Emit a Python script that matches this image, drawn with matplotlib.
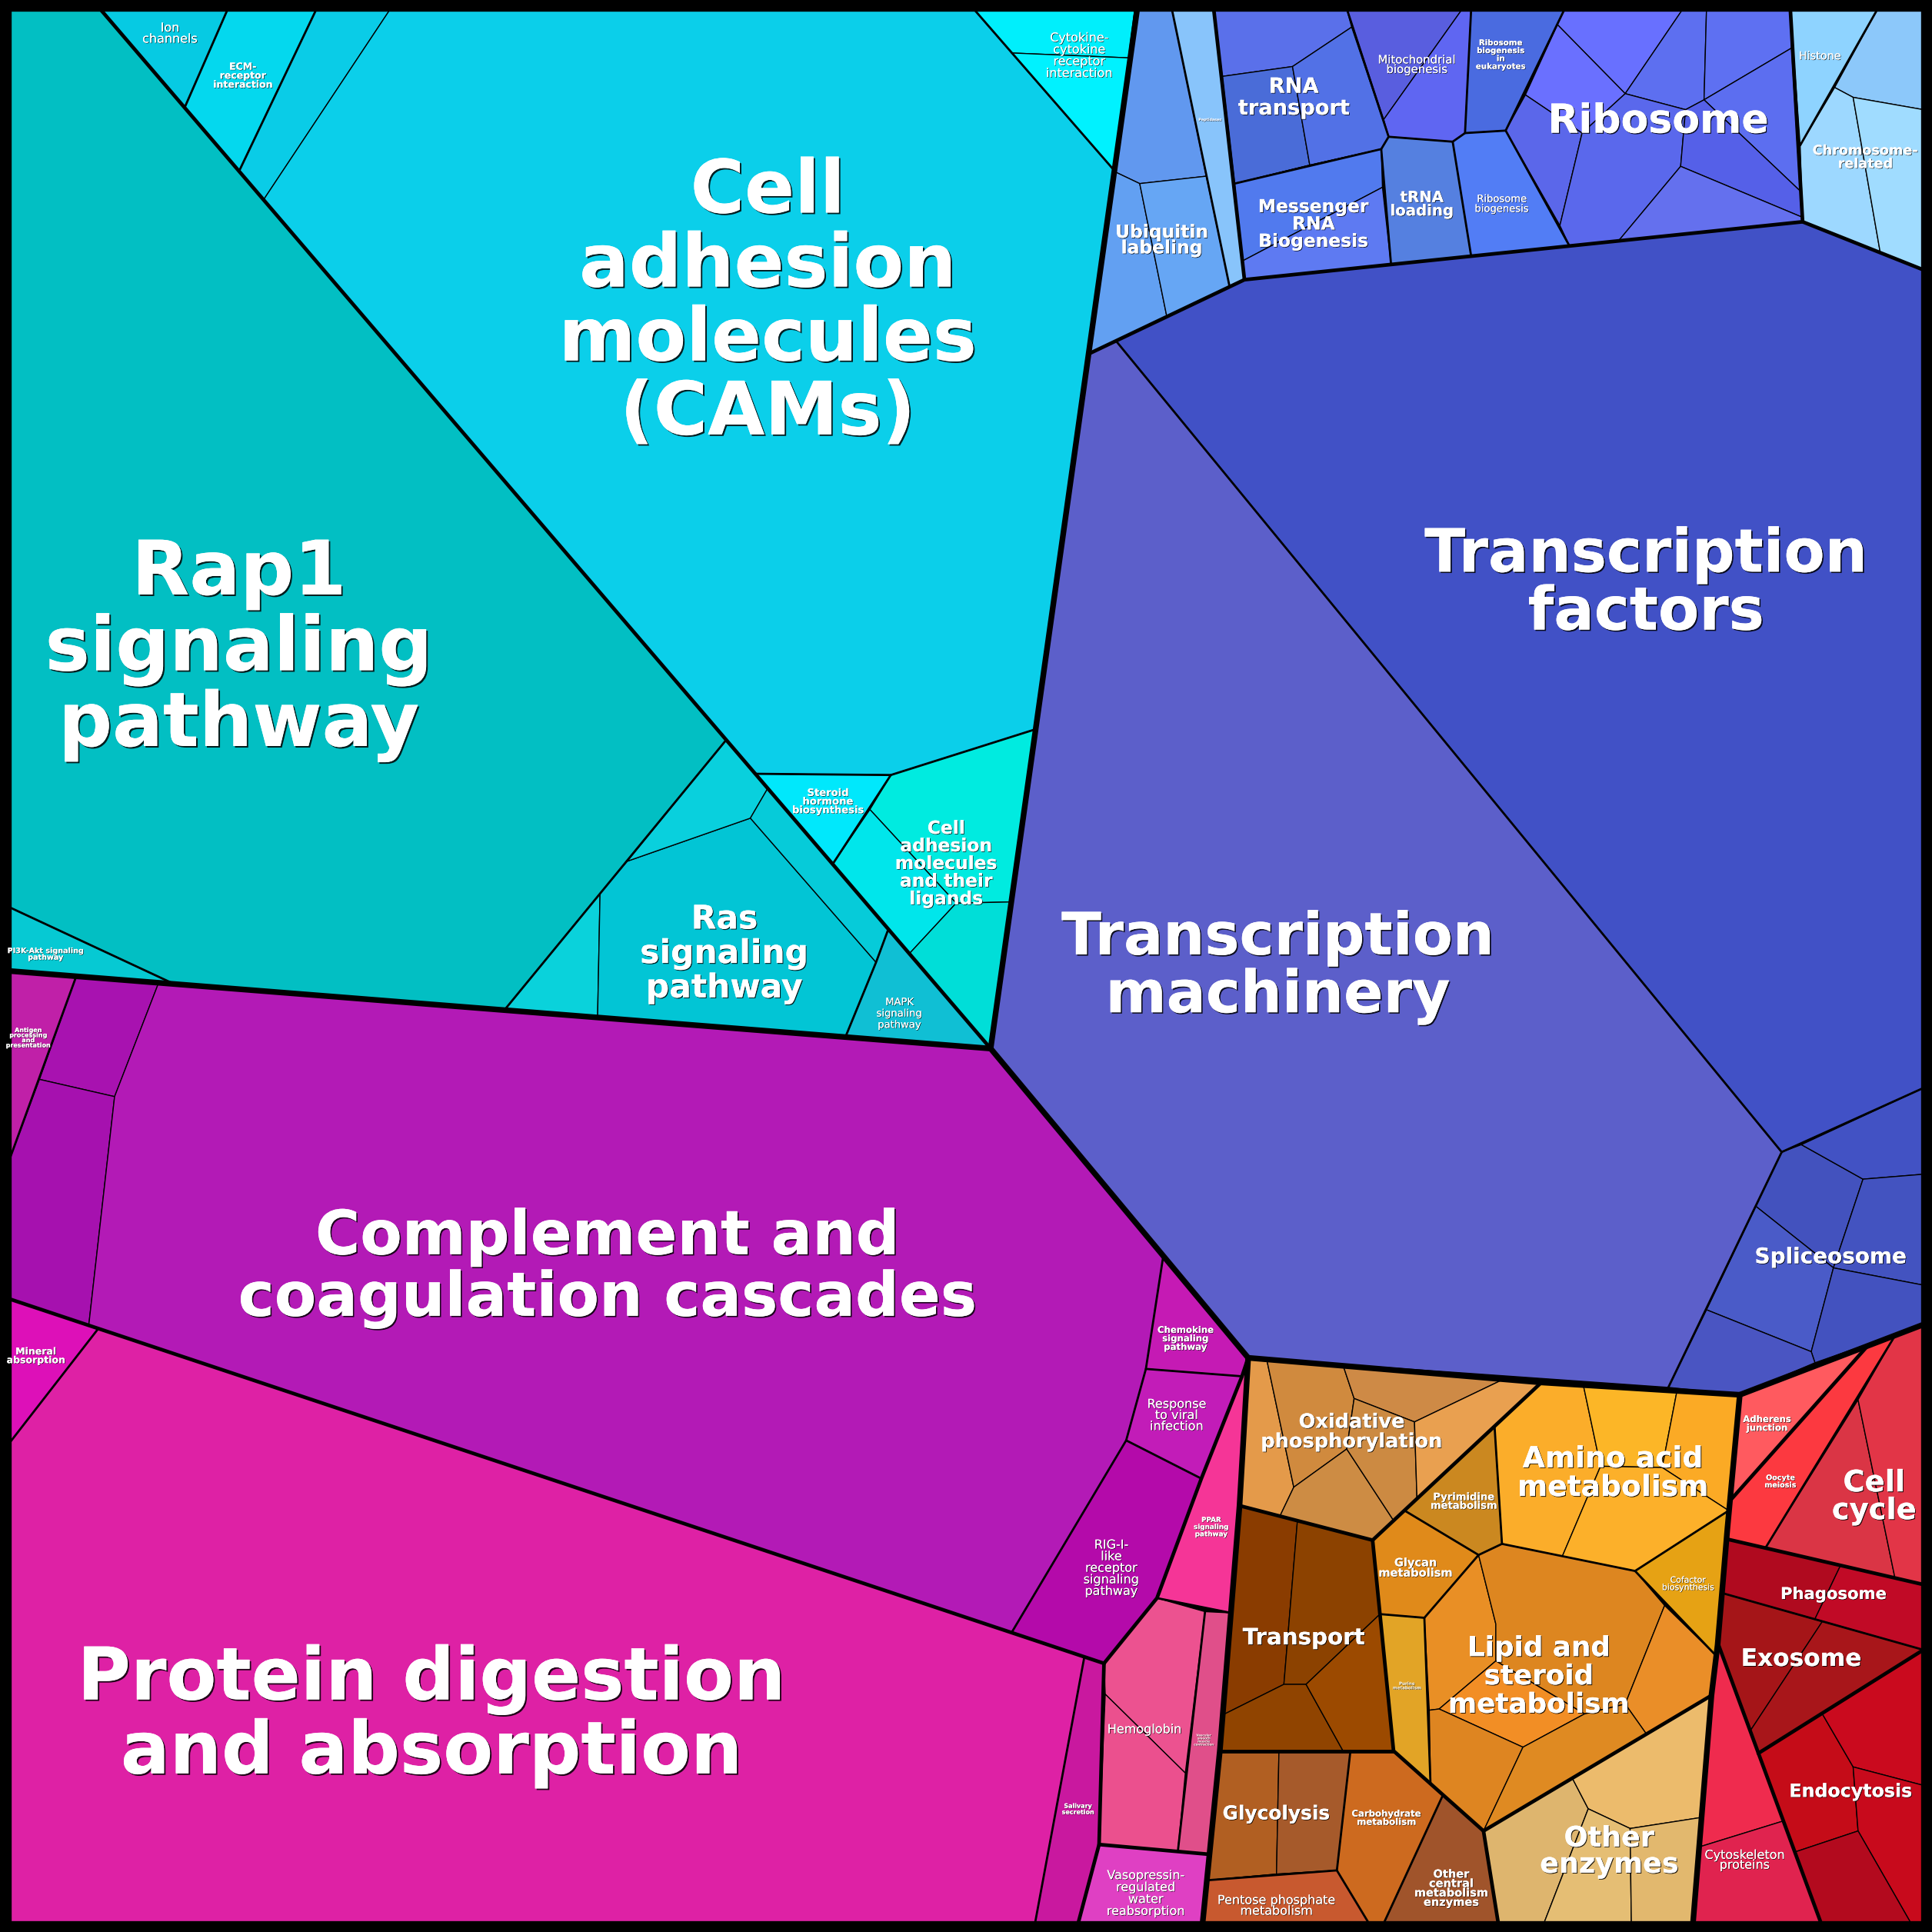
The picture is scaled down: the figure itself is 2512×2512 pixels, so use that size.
import matplotlib
matplotlib.use("Agg")
import matplotlib.pyplot as plt
from matplotlib.patches import Polygon
import matplotlib.patheffects as pe

# ---------------- cells of the Voronoi treemap (coordinates in a 1568-unit square) -------------
cell_names = [
    "Rap1", "PI3K", "Ion", "ECM", "CAM_a", "CAMs", "Cyto_a", "Cyto_b", "Steroid",
    "CAL_a", "CAL_b", "CAL_c", "Ras_L1", "Ras", "Ras_L3", "Ras_L4", "MAPK",
    "Ub_top", "Ub_bl", "Ub_br", "Peptidases",
    "RNA_top", "RNA_left", "RNA_right", "Mess_up", "Mess_low", "Mito_l", "Mito_r",
    "RiboEuk", "tRNA", "RiboBio",
    "R1", "R2", "R3", "R4", "R5", "R6", "R7", "R8", "R9",
    "Histone", "HC_tr", "HC_l", "HC_r", "TF", "TM",
    "S1", "S2", "S3", "S4", "S5", "S6",
    "Antigen", "P1", "P2", "Complement", "Chemokine", "Response", "RIG",
    "Mineral", "Protein", "Salivary", "PPAR", "Hemo_a", "Hemo_b", "Vascular", "Vasopressin",
    "O1", "O2", "O3", "O4", "O5", "O6", "T1", "T2", "T3", "T4",
    "Pyrimidine", "Glycan", "Purine", "AA1", "AA2", "AA3", "AA4", "Cofactor",
    "Lp1", "Lp2", "LpC", "LpR", "LpBL", "LpBR",
    "OE1", "OE2", "OE3", "OE4", "OtherCentral", "Carbo", "G1", "G2", "Pentose",
    "Adherens", "Oocyte", "CC1", "CC2", "Ph1", "Ph2", "Ex1", "Ex2",
    "En1", "En2", "En3", "En4", "Cy1", "Cy2",
]

cell_colors = [
    "#02BFC3", "#06C9D3", "#06CAE3", "#04D8EE", "#0ACCE7", "#0BCFEA", "#00EFFC", "#00F2FF", "#00E8FC",
    "#00EBE0", "#00E6EB", "#00DED8", "#0AD2DB", "#02C5D5", "#09D0DD", "#06CBD9", "#10BFD4",
    "#6198EF", "#62A0F2", "#66A6F4", "#88C4FB",
    "#5A70EA", "#4A6CD8", "#5271E6", "#517AEE", "#5E7AF2", "#595EDF", "#5F66F2",
    "#4A6BE0", "#5580E0", "#527DF5",
    "#6870FF", "#5D6FF0", "#5E70F2", "#6A70FF", "#5B67EA", "#5A68EC", "#5C6EF0", "#5560E8", "#6470EE",
    "#8ED3FF", "#8CC8FA", "#9DD8FF", "#A0DCFF", "#4151C6", "#5C5FCA",
    "#4352BE", "#4252C4", "#4353C0", "#4A5BC8", "#4352BF", "#4A55C2",
    "#C020A8", "#A812B0", "#A611AF", "#B31AB6", "#C51AB4", "#C21CB8", "#B40AAA",
    "#DD10B8", "#DE21A5", "#C9189F", "#F53597", "#EC5290", "#EB508E", "#E04F8A", "#DF40C3",
    "#E49A4A", "#D08A3E", "#CE8A46", "#CD8C44", "#CC8A42", "#E9A050", "#8A3C00", "#8C4200", "#904400", "#9C4A00",
    "#CB8820", "#E08A1A", "#E2A426", "#FBAD2A", "#FCB627", "#FBAA25", "#FCB02A", "#E6A214",
    "#E98F25", "#DD8620", "#F28E25", "#EA8E28", "#DE8521", "#DF8A22",
    "#DEB56E", "#ECBB6C", "#E5BE74", "#E2B86E", "#A0542B", "#CD6A1F", "#B15F22", "#A65A2B", "#C8592F",
    "#FF5A5F", "#FC3940", "#DA3545", "#E23547", "#B00A1F", "#C10A26", "#A51518", "#A8161A",
    "#C50C18", "#CA0A1E", "#C80A1C", "#B30A1E", "#EF2B4E", "#E0234F",
]

cell_polys = [
    [(7, 7), (81, 7), (589, 601), (410, 819), (140, 798), (7, 736)],
    [(7, 736), (140, 798), (7, 788)],
    [(81, 7), (185, 7), (150, 87)],
    [(185, 7), (257, 7), (194, 139), (150, 87)],
    [(257, 7), (317, 7), (214, 162), (194, 139)],
    [(317, 7), (790, 7), (904, 138), (840, 592), (723, 629), (613, 628), (214, 162)],
    [(790, 7), (921, 7), (917, 47), (821, 43)],
    [(821, 43), (917, 47), (904, 138)],
    [(613, 628), (723, 629), (676, 701)],
    [(723, 629), (840, 592), (821, 732), (776, 733), (706, 657)],
    [(706, 657), (776, 733), (738, 774), (676, 701)],
    [(776, 733), (821, 732), (804, 851), (738, 774)],
    [(410, 819), (487, 725), (485, 826)],
    [(487, 725), (509, 699), (609, 664), (711, 781), (686, 842), (485, 826)],
    [(509, 699), (589, 601), (623, 640), (609, 664)],
    [(609, 664), (623, 640), (721, 754), (711, 781)],
    [(686, 842), (711, 781), (721, 754), (804, 851)],
    # blue: ubiquitin / peptidases
    [(921, 7), (951, 7), (979, 143), (925, 149), (904, 139)],
    [(904, 139), (925, 149), (947, 257), (884, 287)],
    [(925, 149), (979, 143), (998, 233), (947, 257)],
    [(951, 7), (985, 7), (1010, 227), (998, 233)],
    # RNA
    [(985, 7), (1093, 7), (1097, 22), (1049, 54), (992, 62)],
    [(992, 62), (1049, 54), (1063, 134), (1002, 149)],
    [(1049, 54), (1097, 22), (1127, 111), (1121, 121), (1063, 134)],
    [(1002, 149), (1063, 134), (1121, 121), (1122, 152), (1008, 212)],
    [(1008, 212), (1122, 152), (1129, 215), (1010, 227)],
    [(1093, 7), (1187, 7), (1123, 97)],
    [(1187, 7), (1194, 7), (1189, 108), (1179, 115), (1127, 111), (1123, 97)],
    [(1194, 7), (1270, 7), (1222, 106), (1189, 108)],
    [(1121, 121), (1127, 111), (1179, 115), (1194, 208), (1129, 215)],
    [(1179, 115), (1189, 108), (1222, 106), (1274, 200), (1194, 208)],
    # ribosome
    [(1270, 7), (1366, 7), (1319, 76), (1264, 20)],
    [(1366, 7), (1385, 7), (1383, 81), (1368, 89), (1319, 76)],
    [(1385, 7), (1453, 7), (1454, 39), (1383, 81)],
    [(1264, 20), (1319, 76), (1284, 108), (1238, 77)],
    [(1238, 77), (1284, 108), (1266, 183), (1222, 106)],
    [(1319, 76), (1368, 89), (1364, 135), (1314, 195), (1274, 200), (1266, 183), (1284, 108)],
    [(1383, 81), (1454, 39), (1461, 155)],
    [(1368, 89), (1383, 81), (1461, 155), (1462, 176), (1364, 135)],
    [(1364, 135), (1462, 176), (1463, 180), (1314, 195)],
    # histone / chromosome
    [(1453, 7), (1524, 7), (1461, 118)],
    [(1524, 7), (1561, 7), (1561, 89), (1504, 79), (1489, 71)],
    [(1461, 118), (1489, 71), (1504, 79), (1526, 205), (1463, 180)],
    [(1504, 79), (1561, 89), (1561, 219), (1526, 205)],
    # transcription
    [(906, 277), (1010, 227), (1463, 180), (1561, 219), (1561, 883), (1446, 935)],
    [(804, 851), (884, 287), (906, 277), (1446, 935), (1354, 1126), (1013, 1102)],
    # spliceosome
    [(1446, 935), (1462, 929), (1512, 957), (1488, 1029), (1425, 979)],
    [(1462, 929), (1561, 883), (1561, 953), (1512, 957)],
    [(1512, 957), (1561, 953), (1561, 1043), (1488, 1029)],
    [(1425, 979), (1488, 1029), (1470, 1097), (1385, 1063)],
    [(1488, 1029), (1561, 1043), (1561, 1075), (1473, 1106), (1470, 1097)],
    [(1385, 1063), (1470, 1097), (1473, 1106), (1412, 1132), (1354, 1126)],
    # purple
    [(7, 788), (62, 792), (7, 943)],
    [(62, 792), (129, 797), (93, 890), (32, 876)],
    [(32, 876), (93, 890), (72, 1076), (7, 1054), (7, 943)],
    [(129, 797), (804, 851), (944, 1020), (930, 1111), (914, 1169), (821, 1325), (72, 1076), (93, 890)],
    [(944, 1020), (1013, 1102), (1008, 1117), (930, 1111)],
    [(930, 1111), (1008, 1117), (975, 1200), (914, 1169)],
    [(914, 1169), (975, 1200), (939, 1297), (896, 1350), (821, 1325)],
    # pink
    [(7, 1054), (80, 1078), (7, 1172)],
    [(7, 1172), (80, 1078), (880, 1345), (840, 1561), (7, 1561)],
    [(880, 1345), (896, 1350), (892, 1497), (875, 1561), (840, 1561)],
    [(1013, 1102), (1006, 1222), (999, 1309), (939, 1297), (975, 1200), (1008, 1117)],
    [(896, 1350), (939, 1297), (978, 1308), (962, 1439), (897, 1375)],
    [(897, 1375), (962, 1439), (956, 1502), (892, 1497)],
    [(978, 1308), (999, 1309), (982, 1505), (956, 1502)],
    [(892, 1497), (982, 1505), (976, 1561), (875, 1561)],
    # oxidative phosphorylation
    [(1013, 1102), (1028, 1103), (1050, 1207), (1039, 1230), (1006, 1222)],
    [(1028, 1103), (1090, 1108), (1099, 1135), (1093, 1176), (1050, 1207)],
    [(1090, 1108), (1221, 1119), (1148, 1154), (1099, 1135)],
    [(1050, 1207), (1093, 1176), (1131, 1234), (1114, 1250), (1039, 1230)],
    [(1099, 1135), (1148, 1154), (1150, 1216), (1131, 1234), (1093, 1176)],
    [(1148, 1154), (1221, 1119), (1251, 1122), (1213, 1158), (1150, 1216)],
    # transport
    [(1006, 1222), (1053, 1234), (1042, 1367), (992, 1392)],
    [(1053, 1234), (1114, 1250), (1120, 1310), (1060, 1367), (1042, 1367)],
    [(992, 1392), (1042, 1367), (1060, 1367), (1090, 1421), (990, 1421)],
    [(1060, 1367), (1120, 1310), (1131, 1421), (1090, 1421)],
    # pyrimidine / glycan / purine
    [(1213, 1158), (1219, 1253), (1200, 1262), (1140, 1226)],
    [(1114, 1250), (1140, 1226), (1200, 1262), (1156, 1313), (1120, 1310)],
    [(1120, 1310), (1156, 1313), (1161, 1448), (1131, 1421)],
    # amino acid / cofactor
    [(1251, 1122), (1285, 1124), (1299, 1190), (1268, 1263), (1219, 1253), (1213, 1158)],
    [(1285, 1124), (1361, 1129), (1349, 1191), (1299, 1190)],
    [(1361, 1129), (1412, 1132), (1403, 1226), (1349, 1191)],
    [(1299, 1190), (1349, 1191), (1403, 1226), (1327, 1275), (1268, 1263)],
    [(1327, 1275), (1403, 1226), (1401, 1249), (1394, 1333), (1393, 1344)],
    # lipid
    [(1156, 1313), (1200, 1262), (1214, 1318), (1214, 1348), (1168, 1387), (1160, 1388)],
    [(1200, 1262), (1219, 1253), (1327, 1275), (1351, 1303), (1319, 1383), (1286, 1391), (1214, 1348), (1214, 1318)],
    [(1168, 1387), (1214, 1348), (1286, 1391), (1236, 1418)],
    [(1351, 1303), (1393, 1344), (1389, 1376), (1336, 1407), (1319, 1383)],
    [(1160, 1388), (1168, 1387), (1236, 1418), (1204, 1486), (1161, 1448)],
    [(1236, 1418), (1286, 1391), (1319, 1383), (1336, 1407), (1204, 1486)],
    # other enzymes
    [(1204, 1486), (1276, 1443), (1289, 1468), (1253, 1561), (1216, 1561)],
    [(1276, 1443), (1336, 1407), (1389, 1376), (1381, 1475), (1323, 1484), (1289, 1468)],
    [(1289, 1468), (1323, 1484), (1324, 1561), (1253, 1561)],
    [(1323, 1484), (1381, 1475), (1374, 1561), (1324, 1561)],
    [(1131, 1421), (1171, 1457), (1204, 1486), (1216, 1561), (1123, 1561), (1171, 1457)],
    [(1096, 1421), (1131, 1421), (1171, 1457), (1123, 1561), (1111, 1561), (1085, 1518)],
    [(990, 1421), (1038, 1421), (1036, 1521), (980, 1526)],
    [(1038, 1421), (1096, 1421), (1085, 1518), (1036, 1521)],
    [(980, 1526), (1036, 1521), (1085, 1518), (1111, 1561), (976, 1561)],
    # red
    [(1412, 1132), (1516, 1092), (1404, 1218)],
    [(1404, 1218), (1516, 1092), (1538, 1084), (1433, 1256), (1401, 1249)],
    [(1433, 1256), (1508, 1136), (1538, 1281)],
    [(1508, 1136), (1538, 1084), (1561, 1075), (1561, 1286), (1538, 1281)],
    [(1401, 1249), (1494, 1270), (1473, 1314), (1398, 1293)],
    [(1494, 1270), (1561, 1286), (1561, 1339), (1473, 1314)],
    [(1398, 1293), (1479, 1316), (1421, 1404), (1394, 1333)],
    [(1479, 1316), (1561, 1339), (1427, 1423), (1421, 1404)],
    [(1427, 1423), (1479, 1391), (1504, 1434), (1508, 1486), (1457, 1503)],
    [(1479, 1391), (1561, 1339), (1561, 1449), (1504, 1434)],
    [(1504, 1434), (1561, 1449), (1561, 1561), (1551, 1561), (1508, 1486)],
    [(1457, 1503), (1508, 1486), (1551, 1561), (1478, 1561)],
    [(1394, 1333), (1447, 1478), (1379, 1499), (1389, 1376), (1393, 1344)],
    [(1379, 1499), (1447, 1478), (1478, 1561), (1374, 1561)],
]

# ---------------- group boundaries (heavier strokes) ----------------
heavy_lines = [
    [(923, 7), (804, 851)],
    [(7, 788), (804, 851)],
    [(804, 851), (1013, 1102)],
    [(1013, 1102), (1251, 1122), (1412, 1132)],
    [(1412, 1132), (1561, 1075)],
    [(1013, 1102), (1006, 1222), (990, 1421), (976, 1561)],
    [(1412, 1132), (1402, 1240), (1394, 1335), (1389, 1376), (1374, 1561)],
]
mid_lines = [
    [(81, 7), (804, 851)],
    [(7, 1054), (896, 1350)],
    [(1013, 1102), (1008, 1117), (975, 1200), (939, 1297), (896, 1350)],
    [(896, 1350), (892, 1497), (875, 1561)],
    [(892, 1497), (982, 1505)],
    [(884, 287), (1010, 227), (1463, 180), (1561, 219)],
    [(985, 7), (1010, 227)],
    [(1453, 7), (1463, 180)],
    [(1006, 1222), (1114, 1250), (1251, 1122)],
    [(1114, 1250), (1131, 1421), (1204, 1486), (1389, 1376)],
    [(990, 1421), (1131, 1421)],
    [(1204, 1486), (1216, 1561)],
    [(1401, 1249), (1561, 1286)],
    [(1404, 1218), (1516, 1092)],
    [(1394, 1333), (1478, 1561)],
    [(1427, 1423), (1561, 1339)],
]
light_lines = [
    [(7, 736), (140, 798)],
    [(589, 601), (410, 819)],
    [(185, 7), (150, 87)],
    [(257, 7), (194, 139)],
    [(790, 7), (904, 138)],
    [(613, 628), (723, 629), (840, 592)],
    [(723, 629), (676, 701)],
    [(686, 842), (711, 781), (721, 754)],
    [(62, 792), (7, 943)],
    [(944, 1020), (930, 1111), (914, 1169), (821, 1325)],
    [(930, 1111), (1008, 1117)],
    [(914, 1169), (975, 1200)],
    [(80, 1078), (7, 1172)],
    [(939, 1297), (999, 1309)],
    [(880, 1345), (840, 1561)],
    [(978, 1308), (956, 1502)],
    [(951, 7), (998, 233)],
    [(906, 277), (1446, 935)],
    [(1446, 935), (1561, 883)],
    [(1446, 935), (1354, 1126)],
    [(1093, 7), (1127, 111), (1121, 121), (1002, 149)],
    [(1121, 121), (1129, 215)],
    [(1127, 111), (1179, 115), (1189, 108), (1222, 106)],
    [(1179, 115), (1194, 208)],
    [(1194, 7), (1189, 108)],
    [(1270, 7), (1222, 106), (1274, 200)],
    [(1524, 7), (1461, 118)],
    [(1140, 1226), (1200, 1262), (1219, 1253), (1327, 1275), (1403, 1226)],
    [(1213, 1158), (1219, 1253)],
    [(1200, 1262), (1156, 1313), (1120, 1310)],
    [(1156, 1313), (1161, 1448)],
    [(1327, 1275), (1393, 1344)],
    [(1096, 1421), (1085, 1518), (1111, 1561)],
    [(980, 1526), (1085, 1518)],
    [(1171, 1457), (1123, 1561)],
    [(1433, 1256), (1538, 1084)],
    [(1398, 1293), (1561, 1339)],
]

# ---------------- labels ----------------
label_text = [
    "Rap1\nsignaling\npathway", "Cell\nadhesion\nmolecules\n(CAMs)", "Transcription\nfactors",
    "Transcription\nmachinery", "Complement and\ncoagulation cascades", "Protein digestion\nand absorption",
    "Ribosome", "RNA\ntransport", "Messenger\nRNA\nBiogenesis", "Ubiquitin\nlabeling", "tRNA\nloading",
    "Mitochondrial\nbiogenesis", "Ribosome\nbiogenesis\nin\neukaryotes", "Ribosome\nbiogenesis", "Histone",
    "Chromosome-\nrelated", "Spliceosome", "Phagosome", "Exosome", "Endocytosis", "Cell\ncycle",
    "Adherens\njunction", "Oocyte\nmeiosis", "Cytoskeleton\nproteins", "Amino acid\nmetabolism",
    "Lipid and\nsteroid\nmetabolism", "Other\nenzymes", "Oxidative\nphosphorylation", "Transport",
    "Glycolysis", "Pentose phosphate\nmetabolism", "Carbohydrate\nmetabolism",
    "Other\ncentral\nmetabolism\nenzymes", "Pyrimidine\nmetabolism", "Glycan\nmetabolism",
    "Cofactor\nbiosynthesis", "Purine\nmetabolism", "Chemokine\nsignaling\npathway",
    "Response\nto viral\ninfection", "RIG-I-\nlike\nreceptor\nsignaling\npathway", "PPAR\nsignaling\npathway",
    "Hemoglobin", "Vascular\nsmooth\nmuscle\ncontraction", "Salivary\nsecretion",
    "Vasopressin-\nregulated\nwater\nreabsorption", "Mineral\nabsorption",
    "Antigen\nprocessing\nand\npresentation", "PI3K-Akt signaling\npathway", "Ras\nsignaling\npathway",
    "Cell\nadhesion\nmolecules\nand their\nligands", "Steroid\nhormone\nbiosynthesis",
    "MAPK\nsignaling\npathway", "Ion\nchannels", "ECM-\nreceptor\ninteraction",
    "Cytokine-\ncytokine\nreceptor\ninteraction", "Peptidases",
]
label_x = [194, 623, 1336, 1037, 493, 350, 1346, 1050, 1066, 943, 1154, 1150, 1218, 1219, 1477,
           1514, 1486, 1488, 1462, 1502, 1521, 1434, 1445, 1416, 1309, 1249, 1306, 1097, 1058,
           1036, 1036, 1125, 1178, 1188, 1149, 1370, 1142, 962, 955, 902, 983, 929, 977, 875,
           930, 29, 23, 37, 588, 768, 672, 730, 138, 197, 876, 982]
label_y = [522, 241, 470, 781, 1025, 1388, 96, 78, 181, 194, 165, 52, 44, 165, 45,
           127, 1019, 1293, 1345, 1453, 1213, 1155, 1202, 1509, 1194, 1359, 1501, 1161, 1328,
           1471, 1546, 1475, 1532, 1218, 1272, 1285, 1368, 1086, 1148, 1272, 1239, 1403, 1412, 1468,
           1536, 1100, 842, 774, 772, 700, 650, 822, 26.5, 61, 44.5, 97]
label_em = [61, 59.8, 48.5, 47.4, 49.6, 59, 32.5, 17, 14.6, 14.6, 12.3, 9.3, 6.4, 8.2, 9,
            11, 17.4, 13.2, 19.5, 14.8, 24, 7.3, 6, 10, 23.5, 22.3, 22.8, 16, 18.3,
            15.5, 10, 7.3, 9.1, 8.2, 9.1, 6.8, 3.5, 7.3, 10, 10, 5.5, 10, 2.5, 5,
            10, 7.8, 5, 6, 26.5, 14.6, 8.2, 8.2, 10, 7.8, 10, 3]
label_pitch = [61.5, 60, 47, 47, 50, 60, 0, 17.7, 14, 12.7, 11, 7.8, 6.4, 8, 0,
               10.7, 0, 0, 0, 0, 22.5, 7, 6, 8, 23.3, 23, 21.3, 16, 0,
               0, 8.7, 6.7, 7.6, 7, 8.3, 6, 3.5, 6.9, 9, 9.4, 5.8, 0, 2.5, 5,
               9.7, 7, 4.1, 5.3, 27.9, 14.3, 7, 9.2, 9, 7.3, 9.6, 0]
label_bold = [1, 1, 1, 1, 1, 1, 1, 1, 1, 1, 1, 0, 1, 0, 0,
              1, 1, 1, 1, 1, 1, 1, 1, 0, 1, 1, 1, 1, 1,
              1, 0, 1, 1, 1, 1, 0, 1, 1, 0, 0, 1, 0, 1, 1,
              0, 1, 1, 1, 1, 1, 1, 0, 0, 1, 0, 1]
label_color = ["white"] * len(label_text)
label_color[label_text.index("Purine\nmetabolism")] = "#F3E6C8"
label_color[label_text.index("Vascular\nsmooth\nmuscle\ncontraction")] = "#F6D0DC"
label_color[label_text.index("Peptidases")] = "#E8F2FF"

# ---------------- drawing ----------------
SIZE = 1568.0
PX = 2512
fig = plt.figure(figsize=(PX / 100, PX / 100), dpi=100, facecolor="black")
ax = fig.add_axes([0, 0, 1, 1])
ax.set_xlim(0, SIZE)
ax.set_ylim(SIZE, 0)
ax.set_facecolor("black")
ax.axis("off")

W_THIN, W_LIGHT, W_MID, W_HEAVY = 1.0, 2.0, 3.4, 5.3

for name, col, verts in zip(cell_names, cell_colors, cell_polys):
    ax.add_patch(Polygon(verts, closed=True, facecolor=col, edgecolor="black",
                         linewidth=W_THIN, joinstyle="round"))

for group, lw in ((light_lines, W_LIGHT), (mid_lines, W_MID), (heavy_lines, W_HEAVY)):
    for pl in group:
        xs, ys = zip(*pl)
        ax.plot(xs, ys, color="black", linewidth=lw, solid_capstyle="round",
                solid_joinstyle="round")

# outer frame
ax.plot([7, 1561, 1561, 7, 7], [7, 7, 1561, 1561, 7], color="black", linewidth=W_HEAVY)

PT_PER_UNIT = (PX / SIZE) * 72.0 / 100.0
for txt, x, y, em, pitch, bold, col in zip(label_text, label_x, label_y, label_em,
                                           label_pitch, label_bold, label_color):
    lines = txt.split("\n")
    n = len(lines)
    fs = em * PT_PER_UNIT
    off = min(1.5, 0.35 + 0.016 * fs)
    effects = [pe.withSimplePatchShadow(offset=(off, -off), shadow_rgbFace="black", alpha=0.85),
               pe.Normal()]
    for i, line in enumerate(lines):
        yb = y + (i - (n - 1) / 2.0) * pitch + 0.36 * em
        ax.text(x, yb, line, ha="center", va="baseline", fontsize=fs, color=col,
                fontfamily="DejaVu Sans", fontweight="bold" if bold else "normal",
                path_effects=effects)

fig.savefig("out.png", dpi=100, facecolor="black")
